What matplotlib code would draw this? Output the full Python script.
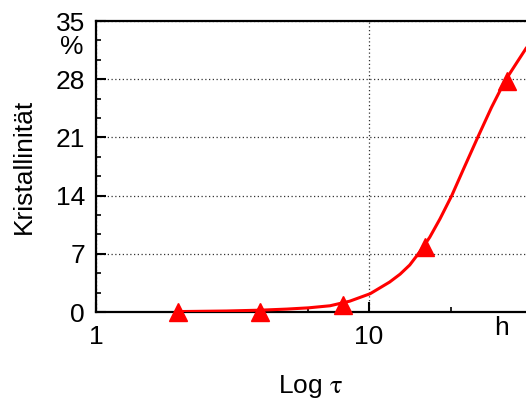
import matplotlib.pyplot as plt
from matplotlib.ticker import FixedLocator, MultipleLocator

plt.rcParams['font.family'] = ['Liberation Sans', 'DejaVu Sans']
plt.rcParams['mathtext.fontset'] = 'stix'

# gemessene Punkte
zeit = [2, 4, 8, 16, 32]
kristall = [0.0, 0.0, 0.85, 7.8, 27.8]

# Verlauf der Kurve
kurve_x = [2, 3, 4, 5, 6, 7.2, 8.5, 10.1, 11.9, 13.0, 14.1, 15.4, 16.7, 18.2,
           20.1, 22.2, 25.1, 28.1, 31.5, 34.8, 37.6]
kurve_y = [0.05, 0.12, 0.22, 0.35, 0.5, 0.75, 1.3, 2.2, 3.6, 4.55, 5.65, 7.3, 9.0,
           11.2, 14.0, 17.2, 21.1, 24.6, 27.8, 30.0, 31.7]

fig = plt.figure(figsize=(5.26, 4.01), dpi=100)
ax = fig.add_axes([96 / 526, 89 / 401, 430 / 526, 291 / 401])

ax.plot(kurve_x, kurve_y, color='#ff0000', lw=2.2, zorder=3)
ax.plot(zeit, kristall, '^', color='#ff0000', ms=13, zorder=4, clip_on=False)

ax.set_xscale('log')
ax.set_xlim(1, 37.6)
ax.set_ylim(0, 35)

ax.xaxis.set_major_locator(FixedLocator([1, 10]))
ax.xaxis.set_minor_locator(FixedLocator([6, 20]))
ax.set_xticklabels(['1', '10'])
ax.yaxis.set_major_locator(MultipleLocator(7))
ax.yaxis.set_minor_locator(MultipleLocator(7 / 3))

ax.tick_params(axis='both', which='major', direction='in', length=7, width=1.5,
               labelsize=19, pad=6)
ax.tick_params(axis='both', which='minor', direction='in', length=3.5, width=1.2)
ax.tick_params(axis='x', which='major', pad=9)
ax.tick_params(axis='y', which='major', pad=8)

ax.grid(True, which='major', axis='both', linestyle=(0, (1, 2)), color='#333333', lw=0.9)
ax.set_axisbelow(True)

for s in ['left', 'bottom', 'top']:
    ax.spines[s].set_linewidth(1.6)
ax.spines['right'].set_visible(False)

ax.set_ylabel('Kristallinität', fontsize=19, labelpad=14)
ax.set_xlabel(r'Log $\mathrm{\tau}$', fontsize=19, labelpad=18)

fig.text(72 / 526, 1 - 47 / 401, '%', fontsize=19, ha='center', va='center')
fig.text(502 / 526, 1 - 328 / 401, 'h', fontsize=19, ha='center', va='center')

fig.savefig('out.png', dpi=100)
